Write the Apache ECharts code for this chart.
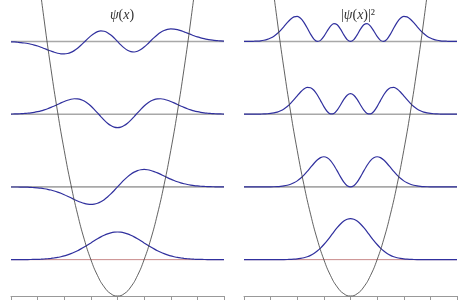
<!DOCTYPE html>
<html><head><meta charset="utf-8">
<script src="https://cdn.jsdelivr.net/npm/echarts@6/dist/echarts.min.js"></script>
<style>html,body{margin:0;padding:0;background:#fff}#c{width:466px;height:304px}</style>
</head><body><div id="c"></div>
<script>
// x positions of the wavefunction samples
const xs = [-4,-3.875,-3.75,-3.625,-3.5,-3.375,-3.25,-3.125,-3,-2.875,-2.75,-2.625,-2.5,-2.375,-2.25,-2.125,
  -2,-1.875,-1.75,-1.625,-1.5,-1.375,-1.25,-1.125,-1,-0.875,-0.75,-0.625,-0.5,-0.375,-0.25,-0.125,
  0,0.125,0.25,0.375,0.5,0.625,0.75,0.875,1,1.125,1.25,1.375,1.5,1.625,1.75,1.875,
  2,2.125,2.25,2.375,2.5,2.625,2.75,2.875,3,3.125,3.25,3.375,3.5,3.625,3.75,3.875,4];
// x positions of the potential samples
const xsPot = [-4,-3.75,-3.5,-3.25,-3,-2.75,-2.5,-2.25,-2,-1.75,-1.5,-1.25,-1,-0.75,-0.5,-0.25,0,0.25,0.5,0.75,1,1.25,1.5,1.75,2,2.25,2.5,2.75,3,3.25,3.5,3.75,4];
const potential = [8,7.031,6.125,5.281,4.5,3.781,3.125,2.531,2,1.531,1.125,0.781,0.5,0.281,0.125,0.031,0,0.031,0.125,0.281,0.5,0.781,1.125,1.531,2,2.531,3.125,3.781,4.5,5.281,6.125,7.031,8];
const xTicks = [-4,-3,-2,-1,0,1,2,3,4];
const energies = [0.5, 1.5, 2.5, 3.5];

const psi0 = [0,0,0,0.001,0.001,0.001,0.002,0.003, 0.004,0.006,0.009,0.012,0.017,0.023,0.030,0.040,
  0.051,0.066,0.082,0.101,0.123,0.148,0.174,0.202, 0.230,0.259,0.287,0.313,0.335,0.354,0.368,0.377,
  0.380,
  0.377,0.368,0.354,0.335,0.313,0.287,0.259,0.230, 0.202,0.174,0.148,0.123,0.101,0.082,0.066,0.051,
  0.040,0.030,0.023,0.017,0.012,0.009,0.006,0.004, 0.003,0.002,0.001,0.001,0.001,0,0,0];
const psi1 = [-0.001,-0.001,-0.001,-0.002,-0.003,-0.004,-0.007,-0.009, -0.013,-0.018,-0.025,-0.033,-0.043,-0.056,-0.071,-0.088,
  -0.107,-0.128,-0.150,-0.172,-0.193,-0.211,-0.226,-0.236, -0.240,-0.236,-0.224,-0.203,-0.175,-0.138,-0.096,-0.049,
  0,
  0.049,0.096,0.138,0.175,0.203,0.224,0.236,0.240, 0.236,0.226,0.211,0.193,0.172,0.150,0.128,0.107,
  0.088,0.071,0.056,0.043,0.033,0.025,0.018,0.013, 0.009,0.007,0.004,0.003,0.002,0.001,0.001,0.001];
const psi2 = [0.002,0.003,0.004,0.007,0.010,0.014,0.019,0.026, 0.035,0.046,0.060,0.075,0.093,0.113,0.134,0.155,
  0.175,0.192,0.205,0.212,0.210,0.200,0.180,0.150, 0.112,0.067,0.017,-0.033,-0.082,-0.124,-0.157,-0.178,
  -0.185,
  -0.178,-0.157,-0.124,-0.082,-0.033,0.017,0.067,0.112, 0.150,0.180,0.200,0.210,0.212,0.205,0.192,0.175,
  0.155,0.134,0.113,0.093,0.075,0.060,0.046,0.035, 0.026,0.019,0.014,0.010,0.007,0.004,0.003,0.002];
const psi3 = [-0.005,-0.007,-0.011,-0.015,-0.021,-0.028,-0.038,-0.050, -0.063,-0.079,-0.097,-0.115,-0.132,-0.149,-0.162,-0.170,
  -0.172,-0.166,-0.150,-0.126,-0.093,-0.053,-0.009,0.036, 0.077,0.111,0.135,0.145,0.140,0.121,0.088,0.047,
  0,
  -0.047,-0.088,-0.121,-0.140,-0.145,-0.135,-0.111,-0.077, -0.036,0.009,0.053,0.093,0.126,0.150,0.166,0.172,
  0.170,0.162,0.149,0.132,0.115,0.097,0.079,0.063, 0.050,0.038,0.028,0.021,0.015,0.011,0.007,0.005];

const dens0 = [0,0,0,0,0,0,0,0, 0,0,0,0.001,0.001,0.002,0.004,0.006,
  0.010,0.017,0.026,0.040,0.059,0.085,0.118,0.159, 0.208,0.262,0.321,0.382,0.439,0.490,0.530,0.555,
  0.564,
  0.555,0.530,0.490,0.439,0.382,0.321,0.262,0.208, 0.159,0.118,0.085,0.059,0.040,0.026,0.017,0.010,
  0.006,0.004,0.002,0.001,0.001,0,0,0, 0,0,0,0,0,0,0,0];
const dens1 = [0,0,0,0,0,0,0,0.001, 0.001,0.002,0.004,0.008,0.014,0.023,0.036,0.056,
  0.083,0.118,0.162,0.213,0.268,0.322,0.370,0.403, 0.415,0.402,0.362,0.298,0.220,0.138,0.066,0.017,
  0,
  0.017,0.066,0.138,0.220,0.298,0.362,0.402,0.415, 0.403,0.370,0.322,0.268,0.213,0.162,0.118,0.083,
  0.056,0.036,0.023,0.014,0.008,0.004,0.002,0.001, 0.001,0,0,0,0,0,0,0];
const dens2 = [0,0,0,0,0.001,0.002,0.003,0.006, 0.010,0.018,0.029,0.047,0.072,0.106,0.149,0.199,
  0.253,0.305,0.347,0.369,0.364,0.329,0.267,0.187, 0.104,0.037,0.003,0.009,0.055,0.127,0.203,0.261,
  0.282,
  0.261,0.203,0.127,0.055,0.009,0.003,0.037,0.104, 0.187,0.267,0.329,0.364,0.369,0.347,0.305,0.253,
  0.199,0.149,0.106,0.072,0.047,0.029,0.018,0.010, 0.006,0.003,0.002,0.001,0,0,0,0];
const dens3 = [0,0.001,0.001,0.003,0.005,0.009,0.017,0.029, 0.047,0.073,0.109,0.153,0.204,0.258,0.306,0.338,
  0.344,0.319,0.263,0.184,0.100,0.033,0.001,0.015, 0.069,0.144,0.212,0.245,0.229,0.170,0.091,0.026,
  0,
  0.026,0.091,0.170,0.229,0.245,0.212,0.144,0.069, 0.015,0.001,0.033,0.100,0.184,0.263,0.319,0.344,
  0.338,0.306,0.258,0.204,0.153,0.109,0.073,0.047, 0.029,0.017,0.009,0.005,0.003,0.001,0.001,0];
const titles = ['{i|ψ}({i|x})', '|{i|ψ}({i|x})|²'];

const psis = [psi0, psi1, psi2, psi3];
const dens = [dens0, dens1, dens2, dens3];
const BLUE = '#30309e';

function pts(xv, vals, off) { return xv.map((x, i) => [x, off + vals[i]]); }

const series = [];
[0, 1].forEach(g => {
  energies.forEach((E, n) => {
    series.push({type:'line', xAxisIndex:g, yAxisIndex:g, data:[[xs[0],E],[xs[xs.length-1],E]],
      symbol:'none', silent:true, z:1,
      lineStyle:{color: n===0 ? '#c88a8a' : '#a8a8a8', width: n===0 ? 1 : 1.6}});
  });
  series.push({type:'line', xAxisIndex:g, yAxisIndex:g, data:pts(xsPot, potential, 0), smooth:true,
    symbol:'none', silent:true, z:3, clip:true, lineStyle:{color:'#3a3a3a', width:0.8}});
  const arr = g === 0 ? psis : dens;
  arr.forEach((vals, n) => {
    series.push({type:'line', xAxisIndex:g, yAxisIndex:g, data:pts(xs, vals, energies[n]), smooth:0.2,
      symbol:'none', silent:true, z:2, lineStyle:{color:BLUE, width:1.2}});
  });
});

const xAx = i => ({type:'value', gridIndex:i, min:xTicks[0], max:xTicks[xTicks.length-1], interval:1,
  axisLine:{show:true, onZero:false, lineStyle:{color:'#999', width:1}},
  axisTick:{show:true, length:4, lineStyle:{color:'#999'}},
  axisLabel:{show:false}, splitLine:{show:false}});
const yAx = i => ({type:'value', gridIndex:i, min:0, max:4.07, show:false, splitLine:{show:false}});

const rich = {i:{fontStyle:'italic', fontFamily:'Liberation Serif', fontSize:14, color:'#333'}};
const chart = echarts.init(document.getElementById('c'), null, {renderer:'canvas'});
chart.setOption({
  animation:false,
  backgroundColor:'#fff',
  title:[
    {text:titles[0], left:117, top:3, textAlign:'center', textStyle:{fontFamily:'Liberation Serif', fontSize:14, fontWeight:'normal', color:'#333', rich}},
    {text:titles[1], left:353, top:3, textAlign:'center', textStyle:{fontFamily:'Liberation Serif', fontSize:14, fontWeight:'normal', color:'#333', rich}}
  ],
  grid:[
    {left:11, top:0, width:213, height:296},
    {left:244, top:0, width:213, height:296}
  ],
  xAxis:[xAx(0), xAx(1)],
  yAxis:[yAx(0), yAx(1)],
  series
});
</script></body></html>
